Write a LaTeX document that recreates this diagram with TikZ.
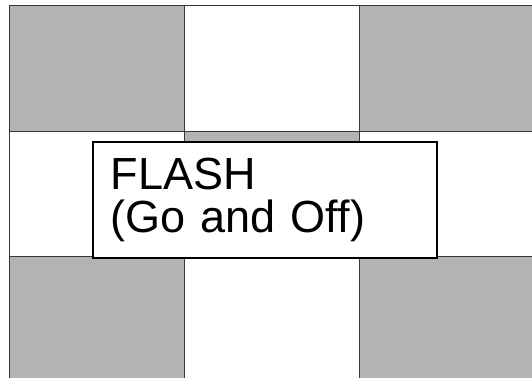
\documentclass[tikz,border=0pt]{standalone}
\usepackage{fontspec}
\newfontfamily\labelfont{Liberation Sans}
\usetikzlibrary{positioning}
\definecolor{cellgray}{RGB}{179,179,179}
\definecolor{gridline}{RGB}{55,55,55}

\begin{document}
\begin{tikzpicture}[x=1pt, y=-1pt,
  gridcell/.style={fill=cellgray},
  gridrule/.style={draw=gridline, line width=1pt},
  flashbox/.style={draw=black, line width=1.6pt, fill=white, anchor=north west,
    minimum width=344pt, minimum height=116pt, text width=308pt,
    inner xsep=18pt, inner ysep=0pt, align=left,
    font=\labelfont\fontsize{45}{43}\selectfont}]
\useasboundingbox (0,0) rectangle (532,377);
\begin{scope}
\clip (0,0) rectangle (532,377);
% checkerboard cells
\foreach \i in {0,1,2} {
  \foreach \j in {0,1,2} {
    \pgfmathtruncatemacro{\parity}{mod(\i+\j,2)}
    \ifnum\parity=0
      \fill[gridcell] (9+175*\i,6+125*\j) rectangle ++(175,125);
    \fi
  }
}
% rules
\foreach \k in {0,1,2,3} {
  \draw[gridrule] (9+175*\k,6) -- (9+175*\k,400);
  \draw[gridrule] (9,6+125*\k) -- (560,6+125*\k);
}
\end{scope}
\node[flashbox] (flash) at (92,141) {FLASH\\(Go and Off)};
\end{tikzpicture}
\end{document}
